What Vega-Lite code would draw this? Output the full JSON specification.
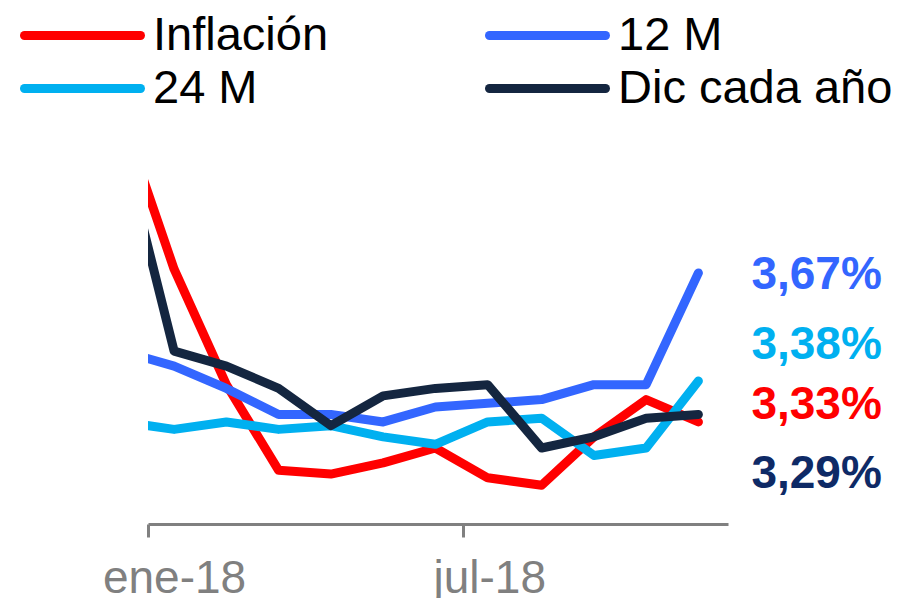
{
  "$schema": "https://vega.github.io/schema/vega-lite/v6.json",
  "width": 580,
  "height": 374,
  "autosize": {"type": "none"},
  "padding": {"left": 148, "top": 150, "right": 174, "bottom": 74},
  "background": "white",
  "config": {"view": {"stroke": null}, "font": "Liberation Sans"},
  "datasets": {
    "series": [
      {"fecha": "2017-12-17", "serie": "Inflación", "valor": 4.09},
      {"fecha": "2018-01-16", "serie": "Inflación", "valor": 3.68},
      {"fecha": "2018-02-15", "serie": "Inflación", "valor": 3.37},
      {"fecha": "2018-03-17", "serie": "Inflación", "valor": 3.14},
      {"fecha": "2018-04-16", "serie": "Inflación", "valor": 3.13},
      {"fecha": "2018-05-16", "serie": "Inflación", "valor": 3.16},
      {"fecha": "2018-06-15", "serie": "Inflación", "valor": 3.20},
      {"fecha": "2018-07-15", "serie": "Inflación", "valor": 3.12},
      {"fecha": "2018-08-15", "serie": "Inflación", "valor": 3.10},
      {"fecha": "2018-09-14", "serie": "Inflación", "valor": 3.23},
      {"fecha": "2018-10-14", "serie": "Inflación", "valor": 3.33},
      {"fecha": "2018-11-13", "serie": "Inflación", "valor": 3.27},
      {"fecha": "2017-12-17", "serie": "12 M", "valor": 3.46},
      {"fecha": "2018-01-16", "serie": "12 M", "valor": 3.42},
      {"fecha": "2018-02-15", "serie": "12 M", "valor": 3.36},
      {"fecha": "2018-03-17", "serie": "12 M", "valor": 3.29},
      {"fecha": "2018-04-16", "serie": "12 M", "valor": 3.29},
      {"fecha": "2018-05-16", "serie": "12 M", "valor": 3.27},
      {"fecha": "2018-06-15", "serie": "12 M", "valor": 3.31},
      {"fecha": "2018-07-15", "serie": "12 M", "valor": 3.32},
      {"fecha": "2018-08-15", "serie": "12 M", "valor": 3.33},
      {"fecha": "2018-09-14", "serie": "12 M", "valor": 3.37},
      {"fecha": "2018-10-14", "serie": "12 M", "valor": 3.37},
      {"fecha": "2018-11-13", "serie": "12 M", "valor": 3.67},
      {"fecha": "2017-12-17", "serie": "24 M", "valor": 3.27},
      {"fecha": "2018-01-16", "serie": "24 M", "valor": 3.25},
      {"fecha": "2018-02-15", "serie": "24 M", "valor": 3.27},
      {"fecha": "2018-03-17", "serie": "24 M", "valor": 3.25},
      {"fecha": "2018-04-16", "serie": "24 M", "valor": 3.26},
      {"fecha": "2018-05-16", "serie": "24 M", "valor": 3.23},
      {"fecha": "2018-06-15", "serie": "24 M", "valor": 3.21},
      {"fecha": "2018-07-15", "serie": "24 M", "valor": 3.27},
      {"fecha": "2018-08-15", "serie": "24 M", "valor": 3.28},
      {"fecha": "2018-09-14", "serie": "24 M", "valor": 3.18},
      {"fecha": "2018-10-14", "serie": "24 M", "valor": 3.20},
      {"fecha": "2018-11-13", "serie": "24 M", "valor": 3.38},
      {"fecha": "2017-12-17", "serie": "Dic cada año", "valor": 4.02},
      {"fecha": "2018-01-16", "serie": "Dic cada año", "valor": 3.46},
      {"fecha": "2018-02-15", "serie": "Dic cada año", "valor": 3.42},
      {"fecha": "2018-03-17", "serie": "Dic cada año", "valor": 3.36},
      {"fecha": "2018-04-16", "serie": "Dic cada año", "valor": 3.26},
      {"fecha": "2018-05-16", "serie": "Dic cada año", "valor": 3.34},
      {"fecha": "2018-06-15", "serie": "Dic cada año", "valor": 3.36},
      {"fecha": "2018-07-15", "serie": "Dic cada año", "valor": 3.37},
      {"fecha": "2018-08-15", "serie": "Dic cada año", "valor": 3.20},
      {"fecha": "2018-09-14", "serie": "Dic cada año", "valor": 3.23},
      {"fecha": "2018-10-14", "serie": "Dic cada año", "valor": 3.28},
      {"fecha": "2018-11-13", "serie": "Dic cada año", "valor": 3.29}
    ],
    "etiquetas": [
      {"fecha": "2018-11-13", "serie": "12 M", "texto": "3,67%", "pos": 3.664},
      {"fecha": "2018-11-13", "serie": "24 M", "texto": "3,38%", "pos": 3.477},
      {"fecha": "2018-11-13", "serie": "Inflación", "texto": "3,33%", "pos": 3.315},
      {"fecha": "2018-11-13", "serie": "Dic cada año", "texto": "3,29%", "pos": 3.130}
    ]
  },
  "layer": [
    {
      "data": {"name": "series"},
      "mark": {"type": "line", "strokeWidth": 9, "strokeCap": "round", "strokeJoin": "round", "clip": true},
      "encoding": {
        "x": {
          "field": "fecha", "type": "temporal", "title": null,
          "scale": {"type": "utc", "domain": [{"year": 2018, "month": 1, "date": 1, "utc": true}, {"year": 2018, "month": 11, "date": 30, "utc": true}]},
          "axis": {
            "values": [{"year": 2018, "month": 1, "date": 1, "utc": true}, {"year": 2018, "month": 7, "date": 1, "utc": true}],
            "labelExpr": "['ene','feb','mar','abr','may','jun','jul','ago','sep','oct','nov','dic'][utcmonth(datum.value)] + '-' + utcFormat(datum.value, '%y')",
            "domainColor": "#808080", "domainWidth": 3,
            "tickColor": "#808080", "tickWidth": 3, "tickSize": 13,
            "labelColor": "#808080", "labelFontSize": 46, "labelFont": "Liberation Sans",
            "labelOffset": 26, "labelPadding": 19, "labelAlign": "center",
            "grid": false, "labelFlush": false, "labelOverlap": false
          }
        },
        "y": {
          "field": "valor", "type": "quantitative",
          "scale": {"domain": [2.996, 4.0], "nice": false, "zero": false},
          "axis": null
        },
        "color": {
          "field": "serie", "type": "nominal",
          "scale": {"domain": ["Inflación", "12 M", "24 M", "Dic cada año"], "range": ["#FF0000", "#3366FF", "#00B0F0", "#142640"]},
          "legend": {
            "orient": "none", "direction": "horizontal", "legendX": -128, "legendY": -141, "columns": 2, "title": null,
            "symbolType": "stroke", "symbolSize": 13456, "symbolStrokeWidth": 9,
            "labelFontSize": 47, "labelFont": "Liberation Sans", "labelColor": "black", "labelLimit": 400,
            "labelOffset": 8, "columnPadding": 156, "rowPadding": 0, "clipHeight": 53, "padding": 0,
            "encode": {"symbols": {"update": {"strokeCap": {"value": "round"}}}}
          }
        }
      }
    },
    {
      "data": {"name": "etiquetas"},
      "mark": {"type": "text", "align": "left", "baseline": "middle", "dx": 53, "fontSize": 46, "fontWeight": "bold", "font": "Liberation Sans"},
      "encoding": {
        "x": {"field": "fecha", "type": "temporal"},
        "y": {"field": "pos", "type": "quantitative"},
        "text": {"field": "texto"},
        "color": {
          "field": "serie", "type": "nominal",
          "scale": {"domain": ["12 M", "24 M", "Inflación", "Dic cada año"], "range": ["#3366FF", "#00B0F0", "#FF0000", "#0E2A66"]},
          "legend": null
        }
      }
    }
  ],
  "resolve": {"scale": {"color": "independent"}}
}
